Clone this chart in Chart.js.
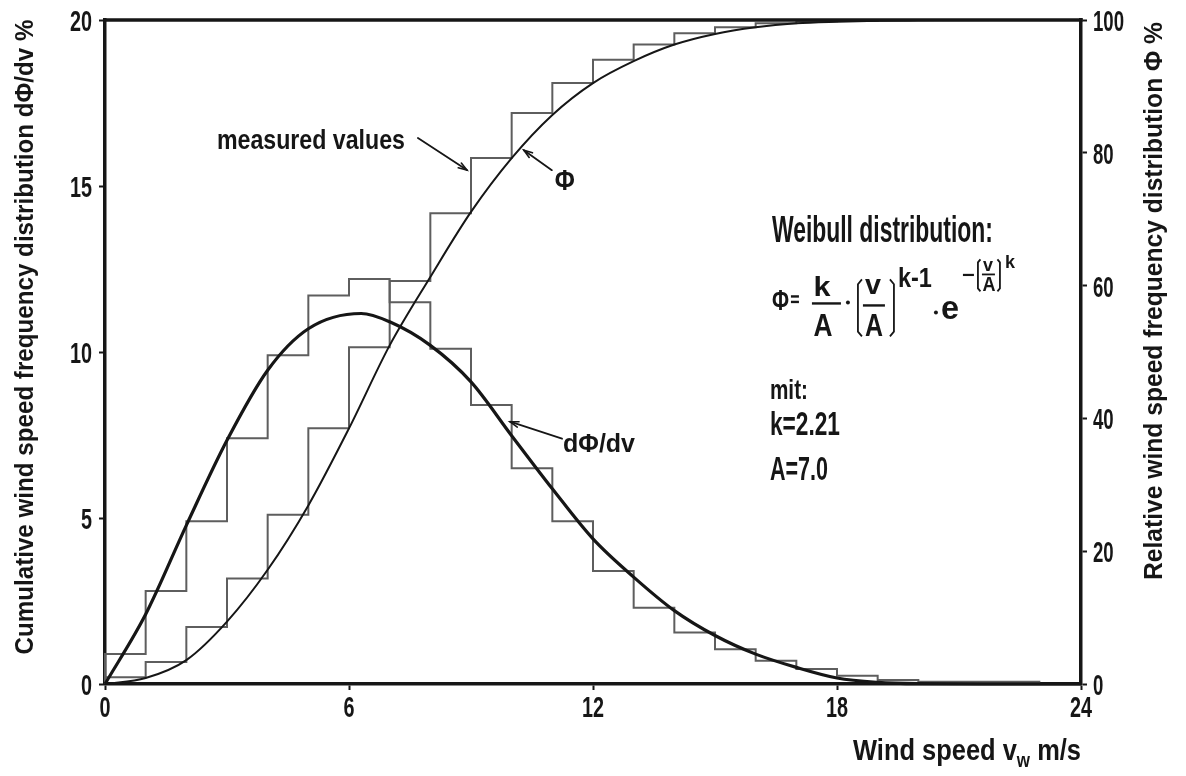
<!DOCTYPE html>
<html>
<head>
<meta charset="utf-8">
<title>Wind speed frequency distribution</title>
<script src="https://cdn.jsdelivr.net/npm/chart.js@4.4.1/dist/chart.umd.min.js"></script>
<style>
  html, body { margin: 0; padding: 0; background: #ffffff; }
  #wrap { width: 1186px; height: 776px; }
</style>
</head>
<body>
<div id="wrap"><canvas id="chart" width="1186" height="776"></canvas></div>
<script>
// Wind-speed classes, 1 m/s wide: lower edge of each class in m/s
const binLower = [0, 1, 2, 3, 4, 5, 6, 7, 8, 9, 10, 11, 12, 13, 14, 15, 16, 17, 18, 19, 20, 21, 22];

// Measured relative frequency per class, dPhi/dv in %
const measuredDensity = [0.9, 2.8, 4.9, 7.4, 9.9, 11.7, 12.2, 11.5, 10.1, 8.4, 6.5, 4.9, 3.4, 2.3,
                         1.55, 1.05, 0.7, 0.45, 0.25, 0.12, 0.07, 0.07, 0.07];

// Measured cumulative frequency per class, Phi in %
const measuredCumulative = [1.0, 3.3, 8.6, 15.9, 25.5, 38.5, 50.7, 60.7, 70.9, 79.2, 86.0, 90.5, 94.0, 96.3,
                            98.0, 98.9, 99.5, 99.8, 99.9, 100, 100, 100, 100];

// Weibull fit (k = 2.21, A = 7.0): frequency curve dPhi/dv in %
const densityCurveSpeed = [0, 1, 2, 3, 4, 5, 6.3, 7, 8, 9, 10, 11, 12, 13, 14, 15, 16, 17, 18, 19, 20, 22, 24];
const densityCurve      = [0, 2.1, 4.78, 7.34, 9.45, 10.7, 11.16, 10.91, 10.2, 9.1, 7.48, 5.88, 4.37, 3.22,
                           2.21, 1.46, 0.9, 0.5, 0.18, 0.05, 0.01, 0, 0];

// Weibull fit: cumulative curve Phi in %
const cumulativeCurveSpeed = [0, 1, 2, 3, 4, 5, 6, 7, 8, 9, 10, 11, 12, 13, 14, 15, 16, 17, 18, 19, 20, 22, 24];
const cumulativeCurve      = [0, 0.9, 3.6, 9.4, 17.2, 26.9, 38.5, 51.0, 61.3, 71.1, 79.2, 85.7, 90.5, 93.8,
                              96.3, 97.9, 98.9, 99.5, 99.75, 99.9, 99.95, 100, 100];

// Tick values of the three axes
const speedTicks = [0, 6, 12, 18, 24];
const densityTicks = [0, 5, 10, 15, 20];
const cumulativeTicks = [0, 20, 40, 60, 80, 100];

const INK = '#161616';
const STEP_GREY = '#5e5e5e';
const FONT = '"Liberation Sans", Arial, sans-serif';

const binWidth = binLower[1] - binLower[0];

// Class values as a stepped outline: a riser at the first edge, then one level per class
function stepOutline(lower, values) {
  const pts = [{ x: lower[0], y: 0 }];
  lower.forEach((v, i) => pts.push({ x: v, y: values[i] }));
  pts.push({ x: lower[lower.length - 1] + binWidth, y: values[values.length - 1] });
  return pts;
}
function curvePoints(xs, ys) {
  return xs.map((x, i) => ({ x, y: ys[i] }));
}

// Bold text, squeezed horizontally to a condensed look (or to an exact width)
function txt(ctx, str, x, y, size, opt = {}) {
  ctx.save();
  ctx.font = `bold ${size}px ${FONT}`;
  const natural = ctx.measureText(str).width;
  const sx = opt.width ? opt.width / natural : (opt.squeeze ?? 1);
  ctx.translate(x, y);
  if (opt.rotate) ctx.rotate(opt.rotate);
  ctx.scale(sx, 1);
  ctx.textAlign = opt.align || 'left';
  ctx.textBaseline = 'alphabetic';
  ctx.fillStyle = INK;
  ctx.fillText(str, 0, 0);
  ctx.restore();
  return natural * sx;
}
function natWidth(ctx, str, size) {
  ctx.save();
  ctx.font = `bold ${size}px ${FONT}`;
  const w = ctx.measureText(str).width;
  ctx.restore();
  return w;
}
function seg(ctx, x0, y0, x1, y1, lw) {
  ctx.beginPath();
  ctx.lineWidth = lw;
  ctx.moveTo(x0, y0);
  ctx.lineTo(x1, y1);
  ctx.stroke();
}
function dot(ctx, x, y) {
  ctx.beginPath();
  ctx.arc(x, y, 2, 0, Math.PI * 2);
  ctx.fill();
}
// Leader line with an open arrow head at (x1, y1)
function leader(ctx, x0, y0, x1, y1) {
  ctx.save();
  ctx.strokeStyle = INK;
  ctx.lineCap = 'round';
  seg(ctx, x0, y0, x1, y1, 1.8);
  const a = Math.atan2(y0 - y1, x0 - x1);
  const len = 9, spread = 0.32;
  ctx.beginPath();
  ctx.lineWidth = 1.6;
  ctx.moveTo(x1 + len * Math.cos(a + spread), y1 + len * Math.sin(a + spread));
  ctx.lineTo(x1, y1);
  ctx.lineTo(x1 + len * Math.cos(a - spread), y1 + len * Math.sin(a - spread));
  ctx.stroke();
  ctx.restore();
}
// Tall bracket used in the formula: side = -1 opens right "(", side = 1 opens left ")"
function bracket(ctx, x, top, bottom, side, hook) {
  ctx.save();
  ctx.strokeStyle = INK;
  ctx.lineWidth = 1.8;
  ctx.beginPath();
  ctx.moveTo(x - side * hook, top);
  ctx.lineTo(x, top + hook * 1.2);
  ctx.lineTo(x, bottom - hook * 1.2);
  ctx.lineTo(x - side * hook, bottom);
  ctx.stroke();
  ctx.restore();
}

const decorations = {
  id: 'decorations',
  afterDraw(chart) {
    const ctx = chart.ctx;
    const ca = chart.chartArea;
    const xs = chart.scales.x, yl = chart.scales.y, yr = chart.scales.y2;

    ctx.save();
    ctx.strokeStyle = INK;
    ctx.fillStyle = INK;

    // top edge of the frame
    seg(ctx, ca.left - 1.75, ca.top, ca.right + 1.75, ca.top, 3.5);

    // tick labels
    xs.ticks.forEach(t => txt(ctx, String(t.value), xs.getPixelForValue(t.value), ca.bottom + 33, 30,
      { squeeze: 0.66, align: 'center' }));
    yl.ticks.forEach(t => txt(ctx, String(t.value), ca.left - 13, yl.getPixelForValue(t.value) + 11, 30,
      { squeeze: 0.66, align: 'right' }));
    yr.ticks.forEach(t => txt(ctx, String(t.value), ca.right + 12, yr.getPixelForValue(t.value) + 11, 30,
      { squeeze: 0.62, align: 'left' }));

    // axis titles
    txt(ctx, 'Cumulative wind speed frequency distribution dΦ/dv %', ca.left - 72, ca.top + 317, 25,
      { width: 635, align: 'center', rotate: -Math.PI / 2 });
    txt(ctx, 'Relative wind speed frequency distribution Φ %', ca.right + 81, ca.top + 281, 25,
      { width: 558, align: 'center', rotate: -Math.PI / 2 });

    // x-axis title with subscript
    const parts = ['Wind speed v', 'w', ' m/s'];
    const natural = natWidth(ctx, parts[0], 30) + natWidth(ctx, parts[1], 20) + natWidth(ctx, parts[2], 30);
    const sx = 228 / natural;
    let cx = ca.right - 228;
    const by = ca.bottom + 76;
    cx += txt(ctx, parts[0], cx, by, 30, { squeeze: sx });
    cx += txt(ctx, parts[1], cx, by + 7, 20, { squeeze: sx });
    txt(ctx, parts[2], cx, by, 30, { squeeze: sx });

    // "measured values" pointing at the cumulative steps
    const mvTipX = xs.getPixelForValue(8.9), mvTipY = yr.getPixelForValue(77.4);
    leader(ctx, mvTipX - 49, mvTipY - 32, mvTipX, mvTipY);
    txt(ctx, 'measured values', mvTipX - 250, mvTipY - 21, 27, { width: 188 });

    // Phi label on the cumulative curve
    const phTipX = xs.getPixelForValue(10.3), phTipY = yr.getPixelForValue(80.4);
    leader(ctx, phTipX + 28, phTipY + 20, phTipX, phTipY);
    txt(ctx, 'Φ', phTipX + 31, phTipY + 40, 30, { width: 20 });

    // dPhi/dv label on the frequency curve
    const dTipX = xs.getPixelForValue(9.96), dTipY = yl.getPixelForValue(7.9);
    leader(ctx, dTipX + 52, dTipY + 17, dTipX, dTipY);
    txt(ctx, 'dΦ/dv', dTipX + 53, dTipY + 30, 25, { width: 72 });

    // Weibull formula block
    const ox = xs.getPixelForValue(16.4), oy = yl.getPixelForValue(13.3);
    txt(ctx, 'Weibull distribution:', ox, oy, 36, { width: 221 });
    txt(ctx, 'Φ', ox, oy + 68, 30, { width: 17 });
    seg(ctx, ox + 19, oy + 54, ox + 27, oy + 54, 2.4);
    seg(ctx, ox + 19, oy + 59.5, ox + 27, oy + 59.5, 2.4);
    // k / A
    txt(ctx, 'k', ox + 50, oy + 54, 28, { width: 17, align: 'center' });
    seg(ctx, ox + 40, oy + 61, ox + 69, oy + 61, 2.4);
    txt(ctx, 'A', ox + 51, oy + 94, 32, { width: 19, align: 'center' });
    dot(ctx, ox + 76, oy + 60);
    // (v / A)^(k-1)
    bracket(ctx, ox + 86, oy + 37, oy + 94, -1, 4);
    txt(ctx, 'v', ox + 101, oy + 52, 28, { width: 16, align: 'center' });
    seg(ctx, ox + 91, oy + 63, ox + 113, oy + 63, 2.4);
    txt(ctx, 'A', ox + 102, oy + 94, 32, { width: 18, align: 'center' });
    bracket(ctx, ox + 122, oy + 37, oy + 94, 1, 4);
    txt(ctx, 'k-1', ox + 126, oy + 45, 28, { width: 34 });
    dot(ctx, ox + 164, oy + 70);
    // e^-(v/A)^k
    txt(ctx, 'e', ox + 169, oy + 77, 34, { width: 18 });
    seg(ctx, ox + 191, oy + 32.5, ox + 202, oy + 32.5, 2.2);
    bracket(ctx, ox + 206, oy + 17, oy + 49, -1, 2.5);
    txt(ctx, 'v', ox + 216, oy + 29, 19, { width: 10, align: 'center' });
    seg(ctx, ox + 210, oy + 32, ox + 223, oy + 32, 1.8);
    txt(ctx, 'A', ox + 217, oy + 49, 20, { width: 13, align: 'center' });
    bracket(ctx, ox + 228, oy + 17, oy + 49, 1, 2.5);
    txt(ctx, 'k', ox + 233, oy + 26, 18, { width: 10 });
    // parameters
    txt(ctx, 'mit:', ox - 2, oy + 157, 27, { width: 38 });
    txt(ctx, 'k=2.21', ox - 2, oy + 193, 34, { width: 70 });
    txt(ctx, 'A=7.0', ox - 2, oy + 238, 34, { width: 58 });

    ctx.restore();
  }
};

const axisGrid = {
  display: true,
  drawOnChartArea: false,
  drawTicks: true,
  tickLength: 6,
  tickWidth: 2,
  tickColor: INK,
  color: INK
};
const axisBorder = { display: true, color: INK, width: 3.5 };
const hiddenTickText = { color: 'rgba(0,0,0,0)', font: { size: 12 } };

new Chart(document.getElementById('chart'), {
  type: 'line',
  data: {
    datasets: [
      {
        label: 'dΦ/dv (Weibull)',
        data: curvePoints(densityCurveSpeed, densityCurve),
        yAxisID: 'y',
        borderColor: INK,
        borderWidth: 3.2,
        cubicInterpolationMode: 'monotone',
        pointRadius: 0,
        clip: 4
      },
      {
        label: 'Φ (Weibull)',
        data: curvePoints(cumulativeCurveSpeed, cumulativeCurve),
        yAxisID: 'y2',
        borderColor: INK,
        borderWidth: 2,
        cubicInterpolationMode: 'monotone',
        pointRadius: 0,
        clip: 4
      },
      {
        label: 'dΦ/dv measured',
        data: stepOutline(binLower, measuredDensity),
        yAxisID: 'y',
        borderColor: STEP_GREY,
        borderWidth: 2,
        stepped: 'before',
        pointRadius: 0,
        clip: 4
      },
      {
        label: 'Φ measured',
        data: stepOutline(binLower, measuredCumulative),
        yAxisID: 'y2',
        borderColor: STEP_GREY,
        borderWidth: 2,
        stepped: 'before',
        pointRadius: 0,
        clip: 4
      }
    ]
  },
  options: {
    responsive: false,
    animation: false,
    devicePixelRatio: 1,
    layout: { padding: { top: 20, left: 0, right: 0, bottom: 0 } },
    plugins: { legend: { display: false }, tooltip: { enabled: false } },
    scales: {
      x: {
        type: 'linear',
        position: 'bottom',
        min: speedTicks[0],
        max: speedTicks[speedTicks.length - 1],
        afterBuildTicks: s => { s.ticks = speedTicks.map(v => ({ value: v })); },
        afterFit: s => { s.height = 92; },
        grid: axisGrid,
        border: axisBorder,
        ticks: hiddenTickText
      },
      y: {
        type: 'linear',
        position: 'left',
        min: densityTicks[0],
        max: densityTicks[densityTicks.length - 1],
        afterBuildTicks: s => { s.ticks = densityTicks.map(v => ({ value: v })); },
        afterFit: s => { s.width = 105; },
        grid: axisGrid,
        border: axisBorder,
        ticks: hiddenTickText
      },
      y2: {
        type: 'linear',
        position: 'right',
        min: cumulativeTicks[0],
        max: cumulativeTicks[cumulativeTicks.length - 1],
        afterBuildTicks: s => { s.ticks = cumulativeTicks.map(v => ({ value: v })); },
        afterFit: s => { s.width = 105; },
        grid: axisGrid,
        border: axisBorder,
        ticks: hiddenTickText
      }
    }
  },
  plugins: [decorations]
});
</script>
</body>
</html>
